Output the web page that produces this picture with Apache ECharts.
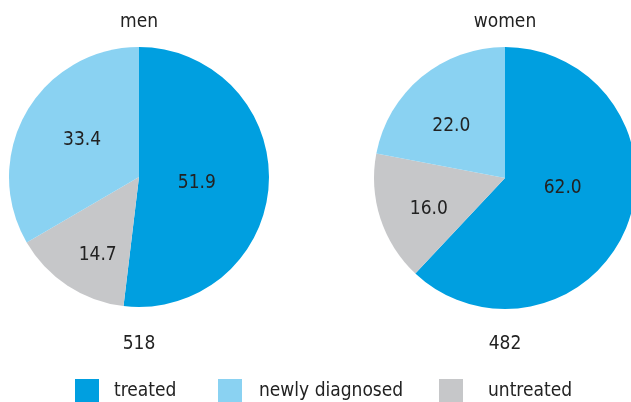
<!DOCTYPE html>
<html>
<head>
<meta charset="utf-8">
<script src="https://cdn.jsdelivr.net/npm/echarts@6/dist/echarts.min.js"></script>
<style>
  html, body { margin: 0; padding: 0; background: #fff; }
  #chart { width: 631px; height: 402px; }
</style>
</head>
<body>
<div id="chart"></div>
<script>
// Share of patients by status, per sex
var groups = ['men', 'women'];
var totals = ['518', '482'];
var statuses = ['treated', 'untreated', 'newly diagnosed'];
var legendOrder = ['treated', 'newly diagnosed', 'untreated'];
var menValues = [51.9, 14.7, 33.4];
var womenValues = [62.0, 16.0, 22.0];

var colors = {
  'treated': '#009fe0',
  'newly diagnosed': '#8ad2f2',
  'untreated': '#c6c7c9'
};
var FONT = '"DejaVu Sans Condensed", "Roboto", sans-serif';
var FS = 19;
var TEXT = '#222222';

// layout of the two pies
var centers = [[139, 177], [505, 178]];
var radii = [130, 131];
// nudges for the value labels inside the slices
var labelNudges = [
  [[-10, 2], [-4, 21], [2, -3]],
  [[-6, -15], [-11, 10], [-10, 1]]
];
// left edge of each legend entry and the gap between swatch and text
var legendLefts = [75, 218, 439];
var legendTextGaps = [10, 12, 20];

var valuesByGroup = [menValues, womenValues];

var series = groups.map(function (g, gi) {
  return {
    name: g,
    type: 'pie',
    center: centers[gi],
    radius: [0, radii[gi]],
    startAngle: 90,
    clockwise: true,
    silent: true,
    animation: false,
    emphasis: { disabled: true },
    label: {
      show: true,
      position: 'inside',
      fontFamily: FONT,
      fontSize: FS,
      color: TEXT,
      formatter: function (p) { return p.value.toFixed(1); }
    },
    labelLine: { show: false },
    data: statuses.map(function (s, si) {
      return {
        name: s,
        value: valuesByGroup[gi][si],
        itemStyle: { color: colors[s] },
        label: { offset: labelNudges[gi][si] }
      };
    })
  };
});

var graphics = [];
groups.forEach(function (g, gi) {
  graphics.push({
    type: 'text', x: centers[gi][0], y: 22,
    style: { text: g, fontFamily: FONT, fontSize: FS, fill: TEXT,
             textAlign: 'center', textVerticalAlign: 'middle' }
  });
  graphics.push({
    type: 'text', x: centers[gi][0], y: 344,
    style: { text: totals[gi], fontFamily: FONT, fontSize: FS, fill: TEXT,
             textAlign: 'center', textVerticalAlign: 'middle' }
  });
});

var legends = legendOrder.map(function (name, i) {
  return {
    data: [name],
    left: legendLefts[i],
    top: 379,
    padding: 0,
    itemWidth: 24,
    itemHeight: 24,
    icon: 'rect',
    selectedMode: false,
    textStyle: {
      fontFamily: FONT,
      fontSize: FS,
      color: TEXT,
      padding: [0, 0, 0, legendTextGaps[i]]
    }
  };
});

var chart = echarts.init(document.getElementById('chart'), null, { renderer: 'canvas' });
chart.setOption({
  backgroundColor: '#ffffff',
  animation: false,
  legend: legends,
  graphic: graphics,
  series: series
});
</script>
</body>
</html>
